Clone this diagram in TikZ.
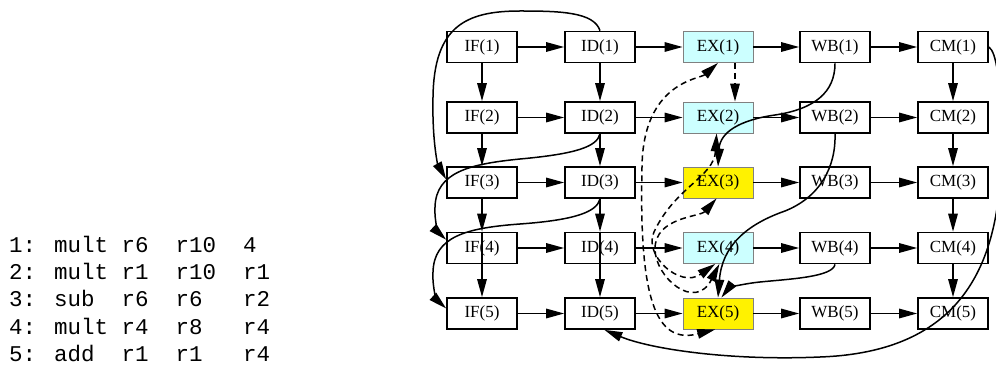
\documentclass[tikz,border=0pt]{standalone}
\usepackage{fontspec}
\setmainfont{Liberation Serif}
\newfontfamily\codefont{Liberation Mono}
\usetikzlibrary{arrows.meta}
\definecolor{mulcyan}{RGB}{204,255,255}
\definecolor{unitgray}{RGB}{128,128,128}

\begin{document}
\begin{tikzpicture}[x=1pt,y=1pt,
    stage/.style={draw, line width=1.7pt, minimum width=70pt, minimum height=31pt, inner sep=0pt, font=\fontsize{17}{20}\selectfont},
    mul/.style={stage, draw=unitgray, line width=0.8pt, fill=mulcyan},
    alu/.style={stage, draw=unitgray, line width=0.8pt, fill=yellow},
    flow/.style={line width=1.5pt, -{Triangle[length=18pt,width=9.5pt]}},
    hazard/.style={flow, dash pattern=on 6pt off 4pt, {Triangle[length=18pt,width=9.5pt]}-{Triangle[length=18pt,width=9.5pt]}}]
    \useasboundingbox (0,0) rectangle (996,367);

    \foreach \i/\y in {1/320,2/249.5,3/184.5,4/119,5/53.5} {
        \foreach \s/\x in {IF/482,ID/600,WB/835,CM/953}
            \node[stage] (\s\i) at (\x,\y) {\s(\i)};
    }
    \foreach \i/\y/\u in {1/320/mul,2/249.5/mul,3/184.5/alu,4/119/mul,5/53.5/alu}
        \node[\u] (EX\i) at (718,\y) {EX(\i)};

    \foreach \i in {1,...,5} {
        \draw[flow] (IF\i) -- (ID\i);
        \draw[flow] (ID\i) -- (EX\i);
        \draw[flow] (EX\i) -- (WB\i);
        \draw[flow] (WB\i) -- (CM\i);
    }
    \foreach \i/\j in {1/2,2/3,3/4} {
        \draw[flow] (IF\i) -- (IF\j);
        \draw[flow] (ID\i) -- (ID\j);
    }
    \draw[flow] (IF4.north) -- (IF5);
    \draw[flow] (ID4.north) -- (ID5);
    \foreach \i/\j in {1/2,2/3,3/4,4/5}
        \draw[flow] (CM\i) -- (CM\j);

    \draw[flow] (ID1.north) .. controls (594,355) and (560,356) .. (520,356)
        .. controls (465,356) and (434,340) .. (433,270)
        .. controls (432,225) and (438,202) .. (IF3.175);
    \draw[flow] (ID2.south) .. controls (597,220) and (575,213) .. (520,208)
        .. controls (470,203) and (436,195) .. (435,160)
        .. controls (434,145) and (440,133) .. (IF4.167);
    \draw[flow] (ID3.south) .. controls (597,155) and (575,147) .. (520,143)
        .. controls (465,139) and (434,130) .. (433,95)
        .. controls (432,78) and (438,66) .. (IF5.172);
    \draw[flow] (WB1.south) .. controls (835,275) and (815,258) .. (775,252)
        .. controls (740,247) and (720,235) .. (EX3.north);
    \draw[flow] (WB2.south) .. controls (836,200) and (820,170) .. (785,156)
        .. controls (745,142) and (722,120) .. (EX5.north);
    \draw[flow] (WB4.south) .. controls (833,90) and (790,88) .. (760,85)
        .. controls (740,83) and (728,78) .. (EX5.78);
    \draw[flow] (CM1.east) .. controls (996,315) and (1001,290) .. (1001,220)
        .. controls (1002,100) and (960,15) .. (820,10)
        .. controls (730,6) and (650,18) .. (ID5.-75);

    \draw[flow, dash pattern=on 6pt off 4pt] ([xshift=17pt]EX1.south) -- ([xshift=17pt]EX2.north);
    \draw[hazard] (EX1.south) .. controls (700,288) and (643,285) .. (642,200)
        .. controls (639,70) and (655,22) .. (EX5.-100);
    \draw[hazard] (EX2.-95) .. controls (714,190) and (675,180) .. (654,135)
        .. controls (643,112) and (680,78) .. (EX4.-100);
    \draw[hazard] (EX3.-95) .. controls (700,150) and (655,150) .. (655,118)
        .. controls (655,90) and (695,55) .. (EX4.-85);

    \foreach \line [count=\k] in {1: mult r6~ r10~ 4, 2: mult r1~ r10~ r1, 3: sub~ r6~ r6~~ r2, 4: mult r4~ r8~~ r4, 5: add~ r1~ r1~~ r4}
        \node[anchor=base west, inner sep=0pt, font=\codefont\fontsize{22.5}{27}\selectfont] (code\k) at (9,141-27*\k) {\line};
\end{tikzpicture}
\end{document}
